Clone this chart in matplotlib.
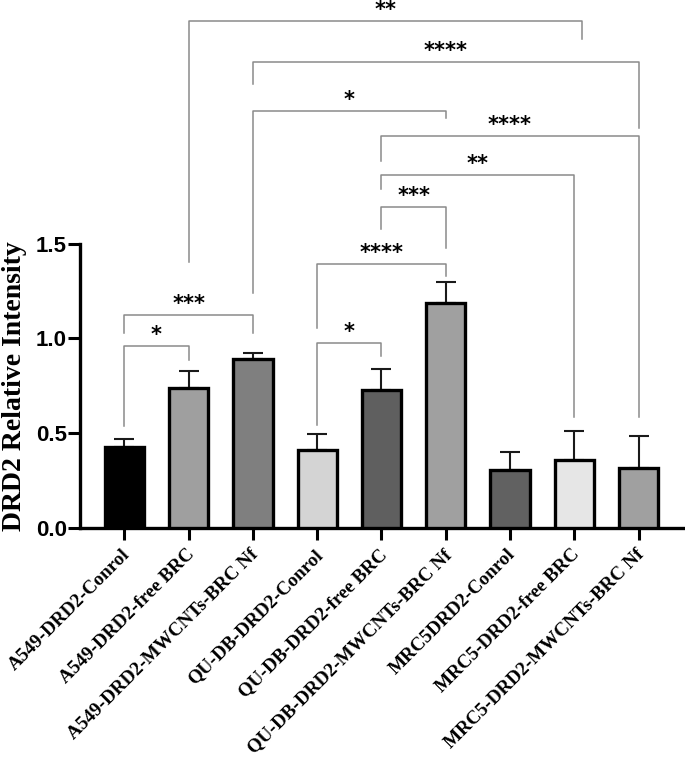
import matplotlib.pyplot as plt
import matplotlib.transforms as mtransforms

# --- data ---
groups = ['A549-DRD2-Conrol', 'A549-DRD2-free BRC', 'A549-DRD2-MWCNTs-BRC Nf',
          'QU-DB-DRD2-Conrol', 'QU-DB-DRD2-free BRC', 'QU-DB-DRD2-MWCNTs-BRC Nf',
          'MRC5DRD2-Conrol', 'MRC5-DRD2-free BRC', 'MRC5-DRD2-MWCNTs-BRC Nf']
means = [0.428, 0.738, 0.891, 0.411, 0.728, 1.186, 0.305, 0.356, 0.315]
errs = [0.042, 0.088, 0.032, 0.086, 0.110, 0.114, 0.093, 0.157, 0.170]
bar_colors = ['#000000', '#9f9f9f', '#7f7f7f', '#d4d4d4', '#5f5f5f',
              '#a0a0a0', '#616161', '#e6e6e6', '#a0a0a0']

# significance brackets: (left x, right x, line height, left leg end, right leg end, label)
brackets = [
    (0, 1, 0.958, 0.538, 0.888, '*'),
    (0, 2, 1.122, 1.030, 1.030, '***'),
    (3, 4, 0.976, 0.543, 0.905, '*'),
    (3, 5, 1.396, 1.055, 1.329, '****'),
    (4, 5, 1.697, 1.577, 1.481, '***'),
    (4, 7, 1.863, 1.792, 0.585, '**'),
    (4, 8, 2.071, 1.937, 0.585, '****'),
    (2, 5, 2.202, 1.243, 2.168, '*'),
    (2, 8, 2.465, 2.345, 2.112, '****'),
    (1, 7.12, 2.679, 1.402, 2.583, '**'),
]

fig = plt.figure(figsize=(6.85, 7.6), dpi=100)
ax = fig.add_axes([0.1168, 0.3059, 0.8802, 0.3731])

x = list(range(len(groups)))
ax.bar(x, means, width=0.61, color=bar_colors, edgecolor='black', linewidth=2.4, zorder=3)
ax.errorbar(x, means, yerr=[[0] * len(errs), errs], fmt='none', ecolor='#1a1a1a',
            elinewidth=1.5, capsize=7.5, capthick=1.5, zorder=2)

for x1, x2, h, l_end, r_end, lab in brackets:
    ax.plot([x1, x1, x2, x2], [l_end, h, h, r_end], color='#8a8a8a', lw=1.1,
            clip_on=False, zorder=1)
    ax.text((x1 + x2) / 2, h + 0.058, lab, ha='center', va='center',
            fontsize=15, fontweight='bold', family='DejaVu Sans')

ax.set_xlim(-0.69, 8.69)
ax.set_ylim(0, 1.5)
ax.set_yticks([0.0, 0.5, 1.0, 1.5])
ax.set_yticklabels(['0.0', '0.5', '1.0', '1.5'], fontsize=16, fontweight='bold',
                   family='Liberation Sans')
ax.set_xticks(x)
ax.set_xticklabels([])

# rotated category labels, anchored just below each tick
lbl_shift = mtransforms.ScaledTranslation(3 / 100, -24.5 / 100, fig.dpi_scale_trans)
for i, name in enumerate(groups):
    ax.text(i, 0, name, transform=ax.transData + lbl_shift, rotation=45,
            ha='right', va='center', rotation_mode='anchor', clip_on=False,
            fontsize=13.8, fontweight='bold', family='Liberation Serif')

ax.tick_params(axis='both', width=2.2, length=8.6, color='black')
ax.tick_params(axis='y', pad=1)
ax.set_ylabel('DRD2 Relative Intensity', fontsize=20, fontweight='bold',
              family='Liberation Serif')
ax.yaxis.set_label_coords(-0.088, 0.5)

for side in ['top', 'right']:
    ax.spines[side].set_visible(False)
for side in ['left', 'bottom']:
    ax.spines[side].set_linewidth(2.4)

fig.savefig('out.png', dpi=100)
